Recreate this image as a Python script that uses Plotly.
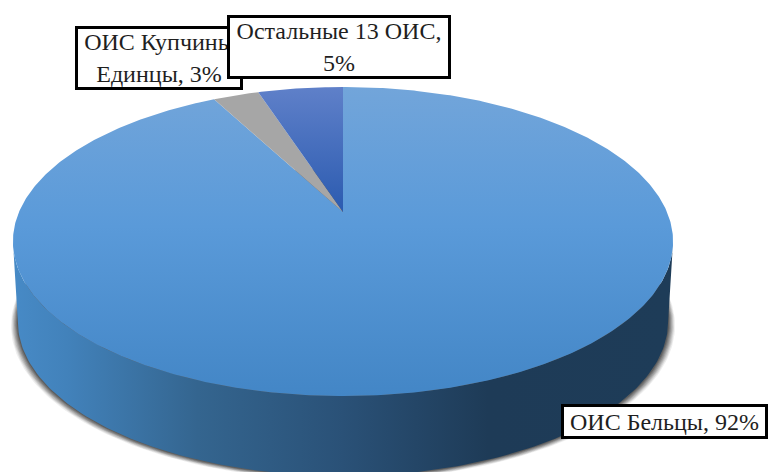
import numpy as np
import plotly.graph_objects as go

categories = ["ОИС Бельцы", "ОИС Купчины<br>Единцы", "Остальные 13 ОИС,<br>"]
values = [92.3, 2.7, 5.0]
slice_scales = [
    [[0, "#72a5da"], [0.45, "#5a9ad9"], [1, "#4386c6"]],
    [[0, "#a6a6a6"], [1, "#a6a6a6"]],
    [[0, "#5f80c9"], [1, "#2b5bb0"]],
]

CX, HUB_Y, A, B, K = 343, 212, 324, 148.9, 0.191
DEPTH, SHRINK = 80, 0.985
FONT = "Liberation Serif"


def project(theta):
    u, v = np.sin(theta), np.cos(theta)
    w = 1 + K * v
    return CX + A * u / w, HUB_Y - B * v / w


fig = go.Figure()
full = np.linspace(0, 2 * np.pi, 361)
ox, oy = project(full)
left, right = int(np.argmin(ox)), int(np.argmax(ox))
# lower half of the outline, right extreme to left extreme
front = np.arange(right, left + 1)
low_x = CX + (ox[front] - CX) * SHRINK
low_y = oy[front] + DEPTH

# soft shadow beneath the pie
for grow, alpha in [(7, 0.08), (6, 0.11), (5, 0.14), (4, 0.17), (3, 0.2), (2, 0.24), (1, 0.3)]:
    sx = CX + (ox - CX) * SHRINK * (1 + grow / 330)
    sy = oy + DEPTH + grow * 0.6
    fig.add_trace(go.Scatter(x=sx, y=sy, mode="lines", line=dict(width=0), fill="toself",
                             fillcolor=f"rgba(40,40,40,{alpha})", hoverinfo="skip"))

# side wall
wall_x = np.concatenate([ox[front], low_x[::-1]])
wall_y = np.concatenate([oy[front], low_y[::-1]])
fig.add_trace(go.Scatter(
    x=wall_x, y=wall_y, mode="lines", line=dict(width=0), fill="toself", hoverinfo="skip",
    fillgradient=dict(type="horizontal", start=13, stop=673, colorscale=[
        [0, "#478ac6"], [0.08, "#4282bb"], [0.28, "#34658f"], [0.5, "#2a5177"],
        [0.72, "#1e3b57"], [1, "#1e3c58"]])))

# top face
total = sum(values)
start = 0.0
for value, scale in zip(values, slice_scales):
    stop = start + value / total
    theta = np.linspace(start, stop, max(3, int(value * 6))) * 2 * np.pi
    px, py = project(theta)
    fig.add_trace(go.Scatter(
        x=np.r_[CX, px, CX], y=np.r_[HUB_Y, py, HUB_Y], mode="lines", line=dict(width=0),
        fill="toself", hoverinfo="skip",
        fillgradient=dict(type="vertical", start=87,
                          stop=396 if value > 10 else HUB_Y,
                          colorscale=scale)))
    start = stop


def label(text, x0, y0, x1, y1):
    fig.add_annotation(
        x=(x0 + x1) / 2, y=(y0 + y1) / 2, text=text, showarrow=False, xref="x", yref="y",
        width=x1 - x0 - 6, height=y1 - y0 - 6, align="center", valign="middle",
        bgcolor="white", bordercolor="black", borderwidth=3, borderpad=0,
        font=dict(family=FONT, size=24, color="#1f1f1f"))


label(f"{categories[1]}, {round(values[1])}%", 75, 26, 243, 90)
label(f"{categories[2]}{round(values[2])}%", 227, 15, 451, 79)
label(f"{categories[0]}, {round(values[0])}%", 561, 404, 768, 439)

fig.update_layout(
    width=768, height=472, margin=dict(l=0, r=0, t=0, b=0), showlegend=False,
    paper_bgcolor="white", plot_bgcolor="white",
    xaxis=dict(range=[0, 768], visible=False, fixedrange=True),
    yaxis=dict(range=[472, 0], visible=False, fixedrange=True))
fig.write_html("out.html", config=dict(displayModeBar=False),
               post_script="document.body.style.margin='0';document.body.style.overflow='hidden';")
